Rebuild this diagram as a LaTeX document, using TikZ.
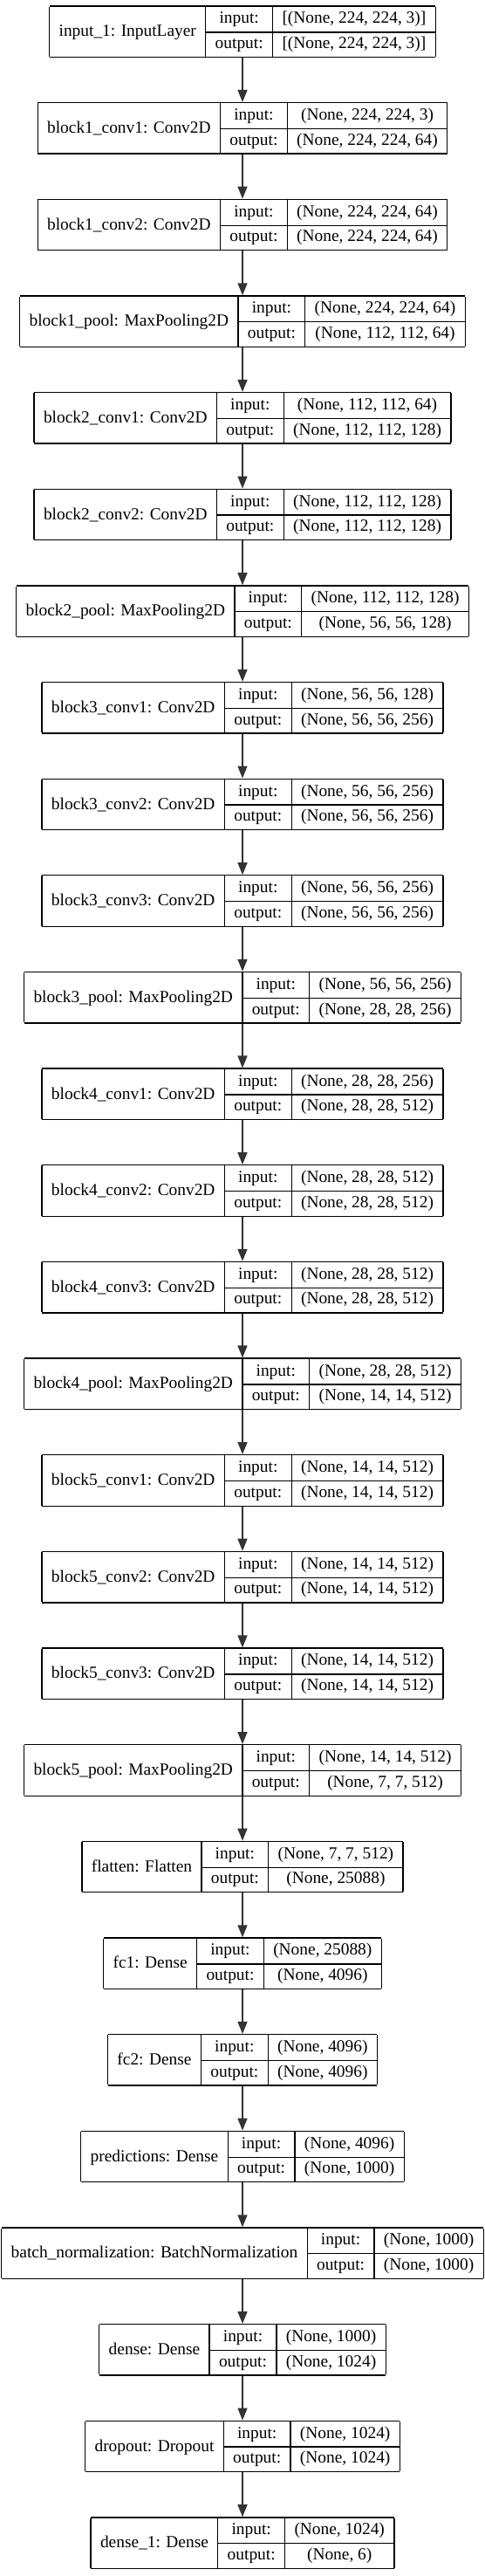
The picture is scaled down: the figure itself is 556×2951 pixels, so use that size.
\documentclass[tikz,border=0pt]{standalone}
\usepackage{fontspec}
\setmainfont{Liberation Serif}
\usetikzlibrary{arrows.meta}
\setlength\arrayrulewidth{1.3pt}
\setlength\tabcolsep{10.9pt}
\newcommand\lfont{\fontsize{19.4}{23}\selectfont}
\newcommand\rowstrut{\rule[-9.3pt]{0pt}{28.6pt}}
\newcommand\rec[3]{\begin{tabular}{|c|c|c|}\hline
\smash{\raisebox{-14.95pt}{#1}} & \rowstrut input: & #2\\ \cline{2-3}
 & \rowstrut output: & #3\\ \hline\end{tabular}}
\tikzset{
  recbox/.style={inner sep=0pt, outer sep=0pt, font=\lfont},
  arr/.style={draw=black!80, line width=1.5pt, -{Triangle[length=14pt,width=11pt]}}
}
\begin{document}
\begin{tikzpicture}[x=1pt,y=1pt]
\useasboundingbox (0,0) rectangle (556,-2951);
\fill[white] (0,0) rectangle (556,-2951);
\def\yy#1{-(5.7+#1*110.65+30.5)}
\node[recbox] (n0) at (278,{\yy{0}}) {\rec{input\_1: InputLayer}{[(None, 224, 224, 3)]}{[(None, 224, 224, 3)]}};
\node[recbox] (n1) at (278,{\yy{1}}) {\rec{block1\_conv1: Conv2D}{(None, 224, 224, 3)}{(None, 224, 224, 64)}};
\node[recbox] (n2) at (278,{\yy{2}}) {\rec{block1\_conv2: Conv2D}{(None, 224, 224, 64)}{(None, 224, 224, 64)}};
\node[recbox] (n3) at (278,{\yy{3}}) {\rec{block1\_pool: MaxPooling2D}{(None, 224, 224, 64)}{(None, 112, 112, 64)}};
\node[recbox] (n4) at (278,{\yy{4}}) {\rec{block2\_conv1: Conv2D}{(None, 112, 112, 64)}{(None, 112, 112, 128)}};
\node[recbox] (n5) at (278,{\yy{5}}) {\rec{block2\_conv2: Conv2D}{(None, 112, 112, 128)}{(None, 112, 112, 128)}};
\node[recbox] (n6) at (278,{\yy{6}}) {\rec{block2\_pool: MaxPooling2D}{(None, 112, 112, 128)}{(None, 56, 56, 128)}};
\node[recbox] (n7) at (278,{\yy{7}}) {\rec{block3\_conv1: Conv2D}{(None, 56, 56, 128)}{(None, 56, 56, 256)}};
\node[recbox] (n8) at (278,{\yy{8}}) {\rec{block3\_conv2: Conv2D}{(None, 56, 56, 256)}{(None, 56, 56, 256)}};
\node[recbox] (n9) at (278,{\yy{9}}) {\rec{block3\_conv3: Conv2D}{(None, 56, 56, 256)}{(None, 56, 56, 256)}};
\node[recbox] (n10) at (278,{\yy{10}}) {\rec{block3\_pool: MaxPooling2D}{(None, 56, 56, 256)}{(None, 28, 28, 256)}};
\node[recbox] (n11) at (278,{\yy{11}}) {\rec{block4\_conv1: Conv2D}{(None, 28, 28, 256)}{(None, 28, 28, 512)}};
\node[recbox] (n12) at (278,{\yy{12}}) {\rec{block4\_conv2: Conv2D}{(None, 28, 28, 512)}{(None, 28, 28, 512)}};
\node[recbox] (n13) at (278,{\yy{13}}) {\rec{block4\_conv3: Conv2D}{(None, 28, 28, 512)}{(None, 28, 28, 512)}};
\node[recbox] (n14) at (278,{\yy{14}}) {\rec{block4\_pool: MaxPooling2D}{(None, 28, 28, 512)}{(None, 14, 14, 512)}};
\node[recbox] (n15) at (278,{\yy{15}}) {\rec{block5\_conv1: Conv2D}{(None, 14, 14, 512)}{(None, 14, 14, 512)}};
\node[recbox] (n16) at (278,{\yy{16}}) {\rec{block5\_conv2: Conv2D}{(None, 14, 14, 512)}{(None, 14, 14, 512)}};
\node[recbox] (n17) at (278,{\yy{17}}) {\rec{block5\_conv3: Conv2D}{(None, 14, 14, 512)}{(None, 14, 14, 512)}};
\node[recbox] (n18) at (278,{\yy{18}}) {\rec{block5\_pool: MaxPooling2D}{(None, 14, 14, 512)}{(None, 7, 7, 512)}};
\node[recbox] (n19) at (278,{\yy{19}}) {\rec{flatten: Flatten}{(None, 7, 7, 512)}{(None, 25088)}};
\node[recbox] (n20) at (278,{\yy{20}}) {\rec{fc1: Dense}{(None, 25088)}{(None, 4096)}};
\node[recbox] (n21) at (278,{\yy{21}}) {\rec{fc2: Dense}{(None, 4096)}{(None, 4096)}};
\node[recbox] (n22) at (278,{\yy{22}}) {\rec{predictions: Dense}{(None, 4096)}{(None, 1000)}};
\node[recbox] (n23) at (278,{\yy{23}}) {\rec{batch\_normalization: BatchNormalization}{(None, 1000)}{(None, 1000)}};
\node[recbox] (n24) at (278,{\yy{24}}) {\rec{dense: Dense}{(None, 1000)}{(None, 1024)}};
\node[recbox] (n25) at (278,{\yy{25}}) {\rec{dropout: Dropout}{(None, 1024)}{(None, 1024)}};
\node[recbox] (n26) at (278,{\yy{26}}) {\rec{dense\_1: Dense}{(None, 1024)}{(None, 6)}};
\foreach \a/\b in {n0/n1,n1/n2,n2/n3,n3/n4,n4/n5,n5/n6,n6/n7,n7/n8,n8/n9,n9/n10,n10/n11,n11/n12,n12/n13,n13/n14,n14/n15,n15/n16,n16/n17,n17/n18,n18/n19,n19/n20,n20/n21,n21/n22,n22/n23,n23/n24,n24/n25,n25/n26}
  \draw[arr] (\a.south) -- (\b.north);
\end{tikzpicture}
\end{document}
